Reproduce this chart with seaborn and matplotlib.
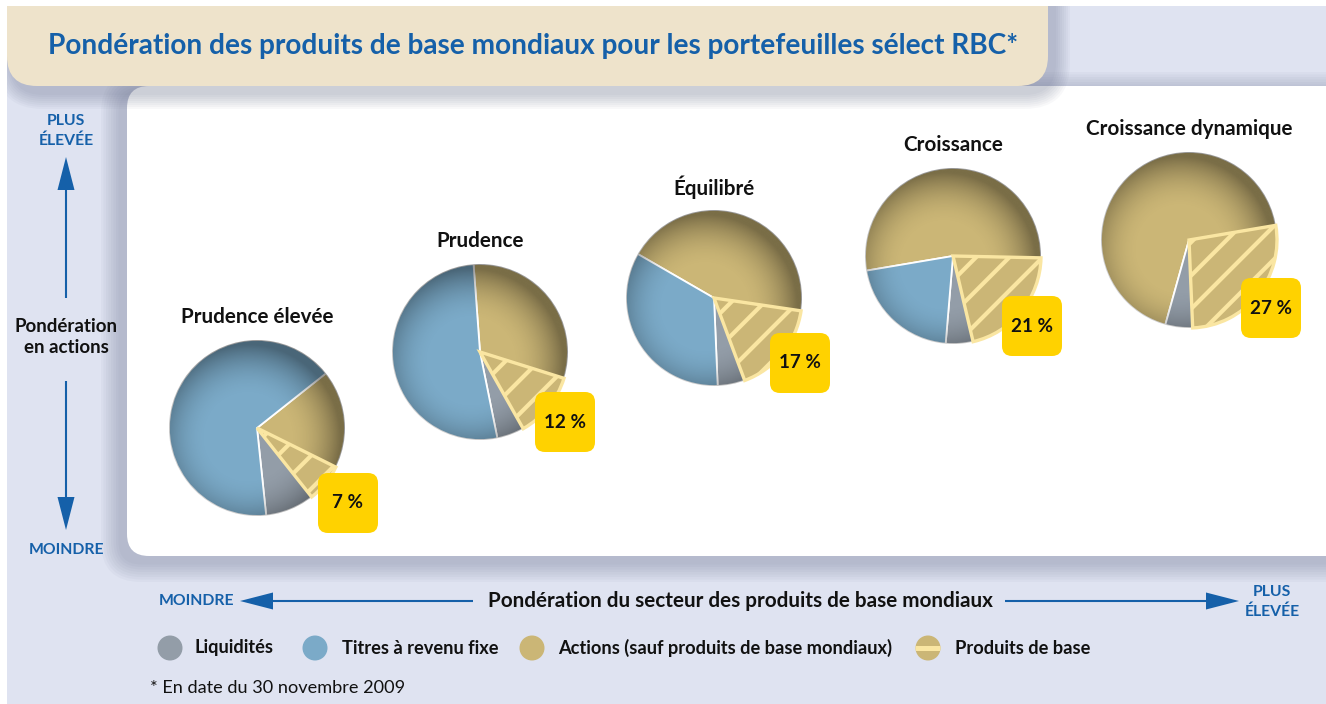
import numpy as np
import matplotlib
matplotlib.use("Agg")
import matplotlib.pyplot as plt
import seaborn as sns
from matplotlib.patches import FancyBboxPatch, Circle, Rectangle, Polygon

# ---- data ---------------------------------------------------------------
portfolios = ["Prudence élevée", "Prudence", "Équilibré", "Croissance", "Croissance dynamique"]
liquidites = [9, 5, 5, 5, 5]
revenu_fixe = [66, 52, 34, 21, 0]
actions = [18, 31, 44, 53, 68]
produits_base = [7, 12, 17, 21, 27]
legend_labels = ["Liquidités", "Titres à revenu fixe",
                 "Actions (sauf produits de base mondiaux)", "Produits de base"]
title = "Pondération des produits de base mondiaux pour les portefeuilles sélect RBC*"
x_label = "Pondération du secteur des produits de base mondiaux"
y_label = "Pondération\nen actions"
footnote = "* En date du 30 novembre 2009"

# ---- style --------------------------------------------------------------
sns.set_theme(style="white")
plt.rcParams["font.family"] = ["Lato", "DejaVu Sans"]
plt.rcParams["hatch.linewidth"] = 3.0

grey = "#939DA8"
blue = "#7BAAC8"
gold = "#CBB676"
stripe = "#FAE6A2"
lavender = "#DFE3F1"
beige = "#EEE3CB"
rbc_blue = "#1560A9"
badge_yellow = "#FFD200"

W, H = 1326, 704
fig = plt.figure(figsize=(W / 100, H / 100), dpi=100)
fig.patch.set_facecolor("white")
renderer = fig.canvas.get_renderer()


def fit(t, width):
    w = t.get_window_extent(renderer=renderer).width
    t.set_fontsize(t.get_fontsize() * width / w)
    return t.get_fontsize()


def shadow(ax, x, y, w, h, r, dx, dy, spread, z, n=8, a=0.045):
    for k in range(n):
        pad = spread * (k + 1) / n
        ax.add_patch(FancyBboxPatch((x + dx, y + dy), w, h,
                                    boxstyle=f"round,pad={pad},rounding_size={r + pad}",
                                    fc="#5E6684", ec="none", alpha=a, zorder=z))


# ---- background panels ----------------------------------------------------
bg = fig.add_axes([0, 0, 1, 1], label="bg", zorder=0)
bg.set_xlim(0, W)
bg.set_ylim(H, 0)
bg.set_axis_off()
bg.add_patch(Rectangle((7, 6), W, H, fc=lavender, ec="none", zorder=1))
# white panel
shadow(bg, 127, 86, W + 40 - 127, 556 - 86, 20, -6, 6, 20, 2)
bg.add_patch(FancyBboxPatch((127, 86), W + 40 - 127, 556 - 86,
                            boxstyle="round,pad=0,rounding_size=22", fc="white", ec="none", zorder=3))
# title box
shadow(bg, 7, -40, 1048 - 7, 86 + 40, 30, 6, 7, 16, 4)
bg.add_patch(FancyBboxPatch((7, -40), 1048 - 7, 86 + 40,
                            boxstyle="round,pad=0,rounding_size=30", fc=beige, ec="none", zorder=5))
bg.add_patch(Rectangle((0, 0), W, 6, fc="white", ec="none", zorder=6))
bg.add_patch(Rectangle((0, 0), 7, H, fc="white", ec="none", zorder=6))

# ---- pies ----------------------------------------------------------------
pie_x = [257, 480, 714, 953, 1189]
pie_y = [428, 352, 298, 256, 240]
badge_dx = [91, 85, 86, 79, 82]
badge_dy = [75, 70, 65, 70, 68]
R = 88
lim = 1.06
hatch_mid = -39  # direction of the commodity slice, degrees

yy, xx = np.mgrid[-1:1:300j, -1:1:300j]
rr = np.hypot(xx + 0.1, yy - 0.1)
shade = np.zeros((300, 300, 4))
shade[..., 3] = 0.40 * np.clip((rr - 0.45) / 0.6, 0, 1) ** 2

for i in range(len(portfolios)):
    cx, cy = pie_x[i], pie_y[i]
    s = R * lim
    ax = fig.add_axes([(cx - s) / W, 1 - (cy + s) / H, 2 * s / W, 2 * s / H],
                      label=f"pie{i}", zorder=2)
    vals = [actions[i], produits_base[i], liquidites[i], revenu_fixe[i]]
    cols = [gold, gold, grey, blue]
    keep = [k for k, v in enumerate(vals) if v > 0]
    start = hatch_mid + 3.6 * (actions[i] + produits_base[i] / 2)
    wedges, _ = ax.pie([vals[k] for k in keep], colors=[cols[k] for k in keep],
                       startangle=start, counterclock=False, radius=1,
                       wedgeprops=dict(edgecolor="white", linewidth=1.3))
    hw = wedges[1]
    hw.set_hatch("/")
    hw.set_edgecolor(stripe)
    hw.set_linewidth(2.4)
    hw.set_zorder(5)
    im = ax.imshow(shade, extent=(-1, 1, -1, 1), zorder=3, interpolation="bilinear")
    im.set_clip_path(Circle((0, 0), 1, transform=ax.transData))
    ax.set_xlim(-lim, lim)
    ax.set_ylim(-lim, lim)
    ax.set_axis_off()

# ---- overlay: texts, badges, arrows, legend ---------------------------------
ov = fig.add_axes([0, 0, 1, 1], label="ov", zorder=3)
ov.set_xlim(0, W)
ov.set_ylim(H, 0)
ov.set_axis_off()
ov.patch.set_alpha(0)

t = ov.text(48, 46, title, color=rbc_blue, fontsize=20, weight="bold", ha="left", va="center")
fit(t, 972)

# pie titles and badges
ptitles = []
for i, name in enumerate(portfolios):
    ptitles.append(ov.text(pie_x[i], pie_y[i] - R - 23, name, fontsize=13, weight="bold",
                           color="#111111", ha="center", va="center"))
fs = fit(ptitles[-1], 206)
for p in ptitles:
    p.set_fontsize(fs)

badges = []
for i in range(len(portfolios)):
    bx, by = pie_x[i] + badge_dx[i], pie_y[i] + badge_dy[i]
    ov.add_patch(FancyBboxPatch((bx - 30, by - 30), 60, 60,
                                boxstyle="round,pad=0,rounding_size=10",
                                fc=badge_yellow, ec="none", zorder=5))
    badges.append(ov.text(bx, by, f"{produits_base[i]} %", fontsize=13, weight="bold",
                          color="#111111", ha="center", va="center", zorder=6))
fs = fit(badges[1], 42)
for b in badges:
    b.set_fontsize(fs)


def arrow(x0, y0, x1, y1, head_len=33, head_w=17):
    d = np.array([x1 - x0, y1 - y0], dtype=float)
    L = np.hypot(*d)
    u = d / L
    n = np.array([-u[1], u[0]])
    base = np.array([x1, y1]) - u * head_len
    ov.plot([x0, base[0]], [y0, base[1]], color=rbc_blue, lw=1.5, solid_capstyle="butt")
    ov.add_patch(Polygon([[x1, y1], base + n * head_w / 2, base - n * head_w / 2],
                         closed=True, fc=rbc_blue, ec="none"))


# vertical axis
arrow(66, 298, 66, 157)
arrow(66, 381, 66, 530)
cap_kw = dict(color=rbc_blue, weight="bold", ha="center", va="center", fontsize=9)
t1 = ov.text(66, 121, "PLUS", **cap_kw)
cfs = fit(t1, 38)
ov.text(66, 141, "ÉLEVÉE", **{**cap_kw, "fontsize": cfs})
ov.text(66, 550, "MOINDRE", **{**cap_kw, "fontsize": cfs})
yl = ov.text(66, 337, y_label, fontsize=13, weight="bold", color="#111111",
             ha="center", va="center", linespacing=1.25)
fit(yl, 103)

# horizontal axis
arrow(473, 601, 240, 601)
arrow(1005, 601, 1239, 601)
ov.text(196, 601, "MOINDRE", **{**cap_kw, "fontsize": cfs})
ov.text(1272, 592, "PLUS", **{**cap_kw, "fontsize": cfs})
ov.text(1272, 612, "ÉLEVÉE", **{**cap_kw, "fontsize": cfs})
xl = ov.text(740, 601, x_label, fontsize=13, weight="bold", color="#111111",
             ha="center", va="center")
fit(xl, 503)

# legend
leg_cx = [170, 315, 532, 928]
leg_tx = [195, 342, 558, 955]
leg_cols = [grey, blue, gold, gold]
leg_texts = []
for k, lab in enumerate(legend_labels):
    ov.add_patch(Circle((leg_cx[k], 648), 12.5, fc=leg_cols[k], ec="none", zorder=4))
    leg_texts.append(ov.text(leg_tx[k], 648, lab, fontsize=12, weight="bold", color="#111111",
                             ha="left", va="center"))
st = Rectangle((leg_cx[3] - 13, 645.5), 26, 5, fc=stripe, ec="none", zorder=5)
ov.add_patch(st)
st.set_clip_path(Circle((leg_cx[3], 648), 12.5, transform=ov.transData))
lfs = fit(leg_texts[2], 331)
for lt in leg_texts:
    lt.set_fontsize(lfs)

fn = ov.text(150, 688, footnote, fontsize=11, color="#111111", ha="left", va="center")
fit(fn, 255)

fig.savefig("out.png", dpi=100, facecolor=fig.get_facecolor())
